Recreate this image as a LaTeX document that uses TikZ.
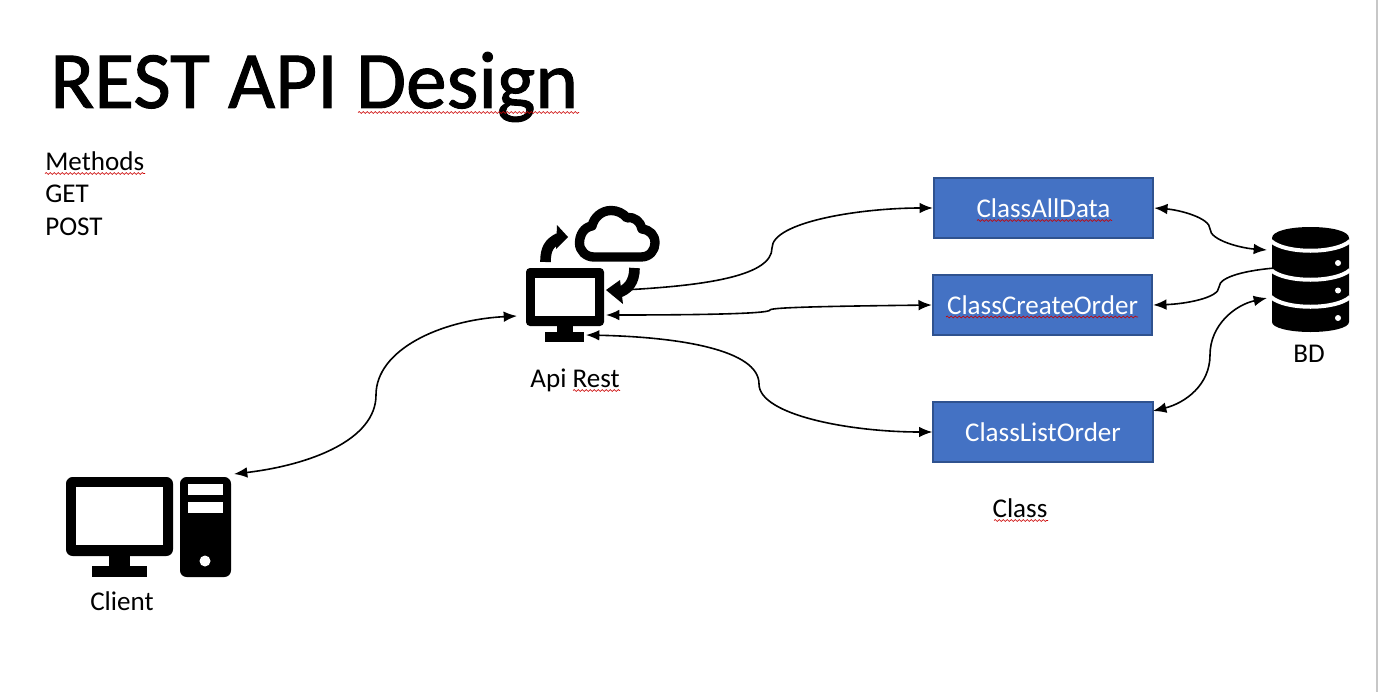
\documentclass[tikz,border=0pt]{standalone}
\usepackage{fontspec}
\setmainfont{Carlito}
\newfontfamily\titlefont[FakeBold=1.2]{Carlito}
\usetikzlibrary{arrows.meta,decorations.pathmorphing}
\definecolor{boxfill}{HTML}{4472C4}
\definecolor{boxline}{HTML}{2F528F}
\tikzset{
  classbox/.style={draw=boxline,line width=1.5pt,fill=boxfill,text=white,inner sep=0pt,minimum width=164.5pt,minimum height=44.5pt,font=\fontsize{20.3}{24}\selectfont},
  lbl/.style={inner sep=0pt,font=\fontsize{20.3}{24}\selectfont},
  wire/.style={line width=1.2pt,black},
  both/.style={wire,{Latex[length=10pt,width=8pt]}-{Latex[length=10pt,width=8pt]}},
  toleft/.style={wire,{Latex[length=10pt,width=8pt]}-},
  toright/.style={wire,-{Latex[length=10pt,width=8pt]}},
  squig/.style={red!80!black,line width=0.5pt,decorate,decoration={snake,amplitude=0.7pt,segment length=3pt}},
  icon/.style={fill=black,draw=none},
}
\begin{document}
\begin{tikzpicture}[x=0.75pt,y=-0.75pt]
\useasboundingbox (0,0) rectangle (1380,692);
\fill[white] (0,0) rectangle (1380,692);
\fill[black!22] (1376,0) rectangle (1378,692);
% title and left text
\node[inner sep=0pt,anchor=base west,font=\titlefont\fontsize{61}{70}\selectfont] (title) at (50,108) {REST API Design};
\node[lbl,anchor=base west] (methods) at (45,170) {Methods};
\node[lbl,anchor=base west] (get) at (45,202) {GET};
\node[lbl,anchor=base west] (post) at (45,235) {POST};
\draw[squig] (358,112.5) -- (579,112.5);
\draw[squig] (45,173.5) -- (145,173.5);
% boxes
\node[classbox] (alldata) at (1043.5,208) {\raisebox{-0.75pt}{ClassAllData}};
\node[classbox] (create) at (1042.5,305) {\raisebox{-0.75pt}{ClassCreateOrder}};
\node[classbox] (list) at (1043,432) {\raisebox{-0.75pt}{ClassListOrder}};
\draw[squig] (977,220.5) -- (1112,220.5);
\draw[squig] (946,317) -- (1138,317);
\node[lbl,anchor=base] (classlbl) at (1020,517) {Class};
\draw[squig] (994,520.5) -- (1048,520.5);
% api rest icon
\fill[icon,rounded corners=3pt] (526,268) rectangle (604,326);
\fill[white] (535,278) rectangle (595,316);
\fill[icon] (557,326) rectangle (573,333);
\node[icon,minimum width=29.25pt,minimum height=7.5pt,inner sep=0pt] (apibase) at (564.5,337) {};
\draw[line width=7pt,line join=round] (594,257) -- (641,257) .. controls (650,257) and (655,250) .. (655,243) .. controls (655,235) and (650,230) .. (642,229) .. controls (641,222) and (634,216) .. (627,218) .. controls (623,213) and (617,210.5) .. (611,210.5) .. controls (602,210.5) and (594,217) .. (592,226) .. controls (584,227) and (579.5,235) .. (579.5,243) .. controls (579.5,251) and (586,257) .. (594,257) -- cycle;
\draw[line width=8pt] (545.5,262) .. controls (545.5,249) and (549,243) .. (559,238);
\fill[icon] (557,225) -- (568,237) -- (556,249) -- cycle;
\draw[line width=8pt] (634.5,268) .. controls (634.5,282) and (628,290) .. (617,293);
\fill[icon] (606,290) -- (620,280) -- (623,304) -- cycle;
\node[lbl,anchor=base] (apilbl) at (575,387) {Api Rest};
\draw[squig] (573,390.5) -- (620,390.5);
% client icon
\fill[icon,rounded corners=5pt] (66,477) rectangle (173,556);
\fill[white] (76,487) rectangle (163,545);
\fill[icon] (109,556) rectangle (130,567);
\fill[icon] (92,566) rectangle (147,577);
\fill[icon,rounded corners=5pt] (180,477) rectangle (231,577);
\fill[white] (188,484) rectangle (223,495);
\fill[white] (188,502) rectangle (223,513);
\fill[white] (205,561) circle (5.5);
\node[lbl,anchor=base] (clientlbl) at (122,610) {Client};
% database icon
\fill[icon] (1272,238) .. controls (1272,231) and (1290,227) .. (1310.5,227) .. controls (1331,227) and (1349,231) .. (1349,238) -- (1349,322) .. controls (1349,328) and (1331,332) .. (1310.5,332) .. controls (1290,332) and (1272,328) .. (1272,322) -- cycle;
\draw[white,line width=3pt] (1271,241) .. controls (1285,254) and (1336,254) .. (1350,241);
\draw[white,line width=3pt] (1271,270) .. controls (1285,283) and (1336,283) .. (1350,270);
\draw[white,line width=3pt] (1271,297) .. controls (1285,310) and (1336,310) .. (1350,297);
\fill[white] (1338,263) circle (3);
\fill[white] (1338,290.5) circle (3);
\fill[white] (1338,318) circle (3);
\node[lbl,anchor=base] (bdlbl) at (1309,362) {BD};
% connector ends
\coordinate (clientend) at (234,474);
\coordinate (apileft) at (517,316);
\coordinate (apia) at (632,289.5);
\coordinate (apib) at (606,315);
\coordinate (apic) at (586,335);
\coordinate (dba) at (1267,250);
\coordinate (dbb) at (1275,268);
\coordinate (dbc) at (1267,298);
\coordinate (listend) at (1153,411);
% connectors
\draw[both] (clientend) .. controls (310,465) and (376,440) .. (376,395) .. controls (376,350) and (440,320) .. (apileft);
\draw[toright] (apia) .. controls (710,285) and (772,275) .. (772,248) .. controls (772,222) and (860,208) .. (alldata.west);
\draw[both] (apib) .. controls (690,315) and (770,314) .. (770,310) .. controls (770,307) and (850,306) .. (create.west);
\draw[both] (apic) .. controls (680,337) and (759,350) .. (759,384) .. controls (759,415) and (850,432) .. (list.west);
\draw[both] (alldata.east) .. controls (1180,210) and (1210,218) .. (1210,229) .. controls (1210,240) and (1240,248) .. (dba);
\draw[toleft] (create.east) .. controls (1185,304) and (1219,298) .. (1219,287) .. controls (1219,276) and (1250,270) .. (dbb);
\draw[both] (listend) .. controls (1185,403) and (1210,385) .. (1210,355) .. controls (1210,325) and (1235,305) .. (dbc);
\end{tikzpicture}
\end{document}
